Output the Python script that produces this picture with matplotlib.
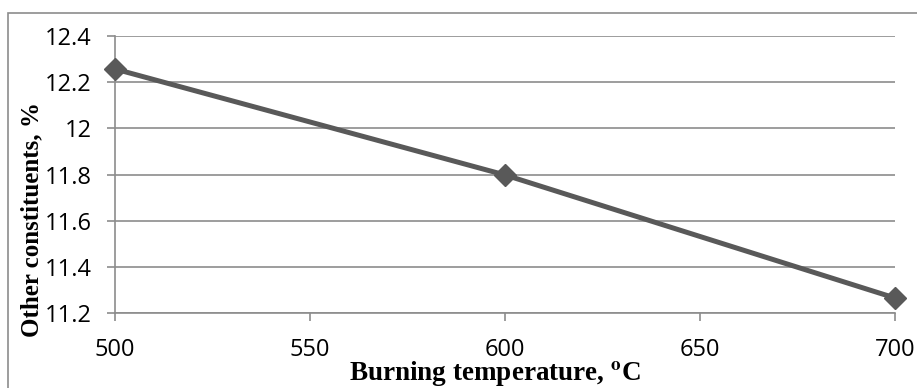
import numpy as np
import matplotlib
matplotlib.use("Agg")
from matplotlib import pyplot as plt
from matplotlib.patches import Rectangle

plt.rcParams['mathtext.fontset'] = 'stix'

temperature = [500, 600, 700]
other_constituents = [12.257, 11.798, 11.265]
x_ticks = [500, 550, 600, 650, 700]
y_ticks = [11.2, 11.4, 11.6, 11.8, 12.0, 12.2, 12.4]
y_tick_labels = ["11.2", "11.4", "11.6", "11.8", "12", "12.2", "12.4"]

fig = plt.figure(figsize=(917/100, 388/100), dpi=100)
ax = fig.add_axes([115/917, 1 - 313/388, 780/917, 277/388])

# outer chart frame (cut off at right and bottom like the original)
fig.patches.append(Rectangle((8/917, -0.01), 1.0, 1 - 12.5/388 + 0.01,
                             transform=fig.transFigure, fill=False,
                             edgecolor='#8c8c8c', linewidth=1.2))

ax.plot(temperature, other_constituents, color='#595959', linewidth=3.6,
        marker='D', markersize=11, clip_on=False, zorder=3)

ax.set_xlim(500, 700)
ax.set_ylim(11.2, 12.4)
ax.set_xticks(x_ticks)
ax.set_yticks(y_ticks)
ax.set_yticklabels(y_tick_labels)
ax.grid(axis='y', color='#8c8c8c', linewidth=1.2)
ax.set_axisbelow(True)

for s in ['top', 'right']:
    ax.spines[s].set_visible(False)
for s in ['left', 'bottom']:
    ax.spines[s].set_color('#8c8c8c')
    ax.spines[s].set_linewidth(1.2)

ax.tick_params(axis='both', colors='#8c8c8c', length=6, width=1.2)
ax.tick_params(axis='y', pad=11)
ax.tick_params(axis='x', pad=12)
for lab in ax.get_xticklabels() + ax.get_yticklabels():
    lab.set_fontfamily('Open Sans')
    lab.set_fontsize(17)
    lab.set_color('black')

ax.set_xlabel("Burning temperature, $^{\\mathbf{o}}$C", fontfamily='Liberation Serif',
              fontweight='bold', fontsize=19.5, va='center')
ax.xaxis.set_label_coords(0.487, -0.218)
ax.set_ylabel("Other constituents, %", fontfamily='Liberation Serif',
              fontweight='bold', fontsize=18, va='center')
ax.yaxis.set_label_coords(-0.107, 0.339)

fig.savefig("out.png", dpi=100)
